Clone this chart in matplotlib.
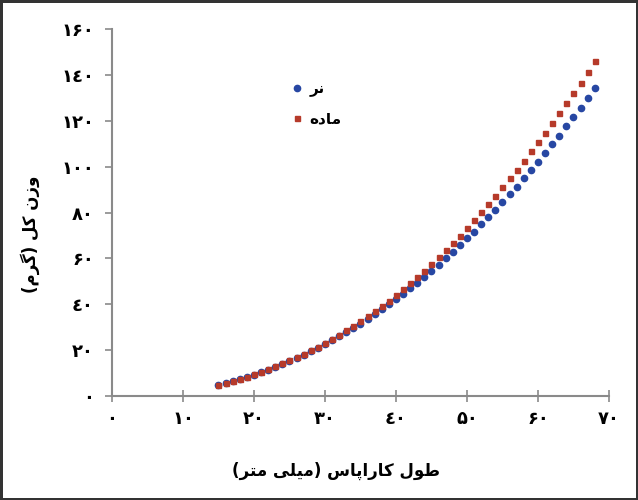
import matplotlib
matplotlib.use("Agg")
import matplotlib.pyplot as plt

# Carapace length (mm) and fitted total weight (g)
length_mm = [15, 16, 17, 18, 19, 20, 21, 22, 23, 24, 25, 26, 27, 28, 29, 30,
             31, 32, 33, 34, 35, 36, 37, 38, 39, 40, 41, 42, 43, 44, 45, 46,
             47, 48, 49, 50, 51, 52, 53, 54, 55, 56, 57, 58, 59, 60, 61, 62,
             63, 64, 65, 66, 67, 68]

weight_male = [5.0, 5.75, 6.57, 7.43, 8.36, 9.35, 10.40, 11.51, 12.67, 13.90,
               15.20, 16.55, 17.97, 19.44, 20.99, 22.59, 24.27, 26.00, 27.80,
               29.67, 31.60, 33.60, 35.66, 37.79, 39.99, 42.26, 44.59, 46.99,
               49.46, 51.99, 54.60, 57.27, 60.02, 62.83, 65.71, 68.67, 71.69,
               74.79, 77.95, 81.19, 84.50, 87.88, 91.33, 94.85, 98.44, 102.1,
               105.8, 109.7, 113.5, 117.5, 121.5, 125.6, 129.8, 134.1]

weight_female = [5.0, 5.75, 6.62, 7.53, 8.46, 9.50, 10.60, 11.71, 12.92, 14.20,
                 15.50, 16.90, 18.37, 19.89, 21.49, 23.14, 24.87, 26.70, 28.60,
                 30.57, 32.60, 34.70, 36.91, 39.19, 41.54, 43.96, 46.49, 49.09,
                 51.76, 54.59, 57.50, 60.47, 63.52, 66.63, 69.91, 73.27, 76.69,
                 80.19, 83.75, 87.39, 91.10, 94.88, 98.73, 102.65, 106.64, 110.7,
                 114.8, 119.1, 123.3, 127.7, 132.1, 136.6, 141.3, 146.1]

x_ticks = [0, 10, 20, 30, 40, 50, 60, 70]
x_tick_labels = ["\u06F0", "\u06F1\u06F0", "\u06F2\u06F0", "\u06F3\u06F0",
                 "\u0664\u06F0", "\u06F5\u06F0", "\u06F6\u06F0", "\u06F7\u06F0"]
y_ticks = [0, 20, 40, 60, 80, 100, 120, 140, 160]
y_tick_labels = ["\u06F0", "\u06F2\u06F0", "\u0664\u06F0", "\u06F6\u06F0",
                 "\u06F8\u06F0", "\u06F1\u06F0\u06F0", "\u06F1\u06F2\u06F0",
                 "\u06F1\u0664\u06F0", "\u06F1\u06F6\u06F0"]

# Persian text, pre-shaped (presentation forms) in visual order
label_male = "\uFEAE\uFEE7"                      # نر
label_female = "\uFEE9\uFEA9\uFE8E\uFEE3"        # ماده
x_title = ("(\uFEAE\uFE98\uFEE3 \uFBFD\uFEE0\uFBFF\uFEE3) "
           "\uFEB1\uFE8E\uFB58\uFE8D\uFEAD\uFE8E\uFB90 \uFEDD\uFEEE\uFEC3")  # طول کاراپاس (میلی متر)
y_title = "(\uFEE1\uFEAE\uFB94) \uFEDE\uFB90 \uFEE5\uFEAF\uFEED"           # وزن کل (گرم)

plt.rcParams["font.family"] = "DejaVu Sans"
plt.rcParams["font.weight"] = "bold"

fig = plt.figure(figsize=(6.38, 5.0), dpi=100)
fig.patch.set_edgecolor("#333333")
fig.patch.set_linewidth(2.5)
ax = fig.add_axes([0.1755, 0.208, 0.779, 0.734])

ax.plot(length_mm, weight_male, linestyle="none", marker="o", markersize=4.5,
        color="#2747a3", label=label_male)
ax.plot(length_mm, weight_female, linestyle="none", marker="s", markersize=3.6,
        color="#b63a2a", label=label_female)

ax.set_xlim(0, 70)
ax.set_ylim(0, 160)
ax.set_xticks(x_ticks)
ax.set_xticklabels(x_tick_labels, fontsize=13, fontweight="bold")
ax.set_yticks(y_ticks)
ax.set_yticklabels(y_tick_labels, fontsize=13, fontweight="bold")

for s in ["top", "right"]:
    ax.spines[s].set_visible(False)
for s in ["left", "bottom"]:
    ax.spines[s].set_color("#8a8a8a")
    ax.spines[s].set_linewidth(1.5)
ax.tick_params(axis="y", direction="out", length=5, width=1.2, color="#8a8a8a", pad=8)
ax.tick_params(axis="x", direction="inout", length=8, width=1.2, color="#8a8a8a", pad=6)

ax.set_xlabel(x_title, fontsize=12, fontweight="bold")
ax.set_ylabel(y_title, fontsize=12, fontweight="bold")
ax.xaxis.set_label_coords(0.45, -0.18)
ax.yaxis.set_label_coords(-0.145, 0.44)

ax.legend(loc="upper left", bbox_to_anchor=(0.33, 0.895), frameon=False,
          handletextpad=0.3, handlelength=1.0, labelspacing=0.9,
          prop={"size": 11, "weight": "bold"})

fig.savefig("out.png", dpi=100)
